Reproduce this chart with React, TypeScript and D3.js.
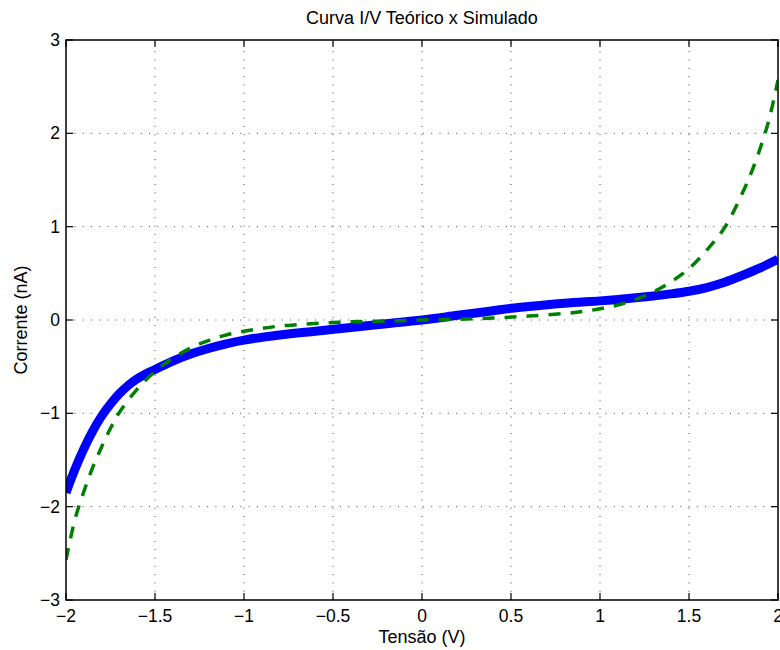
import React, { useEffect, useRef } from 'react';
import * as d3 from 'd3';

// tensão (V) e corrente (nA)
const simX = [-2, -1.95, -1.9, -1.85, -1.8, -1.75, -1.7, -1.65, -1.6, -1.55, -1.5, -1.4, -1.3, -1.2, -1.1, -1.0, -0.8, -0.6, -0.5, -0.4, -0.2, 0, 0.2, 0.4, 0.5, 0.6, 0.8, 1.0, 1.1, 1.2, 1.3, 1.4, 1.5, 1.6, 1.7, 1.8, 1.9, 2.0];
const simY = [-1.85, -1.6, -1.38, -1.19, -1.03, -0.9, -0.79, -0.7, -0.63, -0.575, -0.53, -0.44, -0.365, -0.305, -0.255, -0.215, -0.16, -0.12, -0.1, -0.08, -0.04, 0, 0.05, 0.1, 0.125, 0.145, 0.18, 0.205, 0.22, 0.238, 0.258, 0.28, 0.308, 0.348, 0.405, 0.478, 0.558, 0.65];

const teoX = [-2, -1.95, -1.9, -1.85, -1.8, -1.75, -1.7, -1.6, -1.5, -1.4, -1.3, -1.2, -1.1, -1.0, -0.9, -0.8, -0.7, -0.6, -0.5, -0.4, -0.2, 0, 0.2, 0.4, 0.6, 0.8, 0.9, 1.0, 1.1, 1.2, 1.3, 1.4, 1.5, 1.6, 1.7, 1.8, 1.85, 1.9, 1.95, 2.0];
const teoY = [-2.57, -2.14, -1.84, -1.58, -1.36, -1.16, -0.99, -0.74, -0.55, -0.41, -0.3, -0.22, -0.16, -0.12, -0.09, -0.065, -0.05, -0.038, -0.028, -0.02, -0.01, 0, 0.008, 0.022, 0.042, 0.07, 0.09, 0.12, 0.16, 0.22, 0.3, 0.41, 0.55, 0.75, 0.99, 1.36, 1.58, 1.84, 2.15, 2.57];

const xTicks = [-2, -1.5, -1, -0.5, 0, 0.5, 1, 1.5, 2];
const yTicks = [-3, -2, -1, 0, 1, 2, 3];

const W = 780;
const H = 650;
const FONT = '"Liberation Sans", Arial, sans-serif';

export default function App() {
  const ref = useRef<SVGSVGElement>(null);

  useEffect(() => {
    const svg = d3.select(ref.current);
    svg.selectAll('*').remove();

    const left = 66, right = 778, top = 40, bottom = 600;
    const x = d3.scaleLinear().domain([-2, 2]).range([left, right]);
    const y = d3.scaleLinear().domain([-3, 3]).range([bottom, top]);
    const fmt = (v: number) => d3.format('')(v);

    const grid = svg.append('g').attr('stroke', '#444').attr('stroke-width', 1).attr('stroke-dasharray', '1,7.3');
    xTicks.slice(1, -1).forEach((t) => {
      grid.append('line').attr('x1', x(t)).attr('x2', x(t)).attr('y1', bottom).attr('y2', top);
    });
    yTicks.slice(1, -1).forEach((t) => {
      grid.append('line').attr('x1', left).attr('x2', right).attr('y1', y(t)).attr('y2', y(t));
    });

    const defs = svg.append('defs');
    defs.append('clipPath').attr('id', 'plotclip')
      .append('rect').attr('x', left).attr('y', top).attr('width', right - left).attr('height', bottom - top);

    const line = d3.line<number>().curve(d3.curveCatmullRom.alpha(0.5));

    svg.append('path')
      .attr('clip-path', 'url(#plotclip)')
      .attr('d', line.x((_, i) => x(simX[i])).y((d) => y(d))(simY))
      .attr('fill', 'none')
      .attr('stroke', '#0000ff')
      .attr('stroke-width', 9);

    svg.append('path')
      .attr('clip-path', 'url(#plotclip)')
      .attr('d', line.x((_, i) => x(teoX[i])).y((d) => y(d))(teoY))
      .attr('fill', 'none')
      .attr('stroke', '#008000')
      .attr('stroke-width', 3.5)
      .attr('stroke-dasharray', '12,10');

    // moldura e ticks
    svg.append('rect').attr('x', left).attr('y', top).attr('width', right - left).attr('height', bottom - top)
      .attr('fill', 'none').attr('stroke', '#000').attr('stroke-width', 1.5);

    const tk = svg.append('g').attr('stroke', '#000').attr('stroke-width', 1.2);
    const tl = 7;
    xTicks.forEach((t) => {
      tk.append('line').attr('x1', x(t)).attr('x2', x(t)).attr('y1', bottom).attr('y2', bottom - tl);
      tk.append('line').attr('x1', x(t)).attr('x2', x(t)).attr('y1', top).attr('y2', top + tl);
    });
    yTicks.forEach((t) => {
      tk.append('line').attr('x1', left).attr('x2', left + tl).attr('y1', y(t)).attr('y2', y(t));
      tk.append('line').attr('x1', right).attr('x2', right - tl).attr('y1', y(t)).attr('y2', y(t));
    });

    const txt = svg.append('g').attr('font-family', FONT).attr('fill', '#000');
    xTicks.forEach((t) => {
      txt.append('text').attr('x', x(t)).attr('y', 622).attr('text-anchor', 'middle')
        .attr('font-size', 17.5).text(fmt(t));
    });
    yTicks.forEach((t) => {
      txt.append('text').attr('x', 60).attr('y', y(t) + 6).attr('text-anchor', 'end')
        .attr('font-size', 17.5).text(fmt(t));
    });

    txt.append('text').attr('x', (left + right) / 2).attr('y', 24).attr('text-anchor', 'middle')
      .attr('font-size', 18).text('Curva I/V Teórico x Simulado');
    txt.append('text').attr('x', (left + right) / 2).attr('y', 643).attr('text-anchor', 'middle')
      .attr('font-size', 18).text('Tensão (V)');
    txt.append('text').attr('transform', `translate(27,${(top + bottom) / 2}) rotate(-90)`)
      .attr('text-anchor', 'middle').attr('font-size', 18).text('Corrente (nA)');
  }, []);

  return (
    <svg ref={ref} width={W} height={H} style={{ position: 'absolute', left: 0, top: 0, background: '#fff' }} />
  );
}
